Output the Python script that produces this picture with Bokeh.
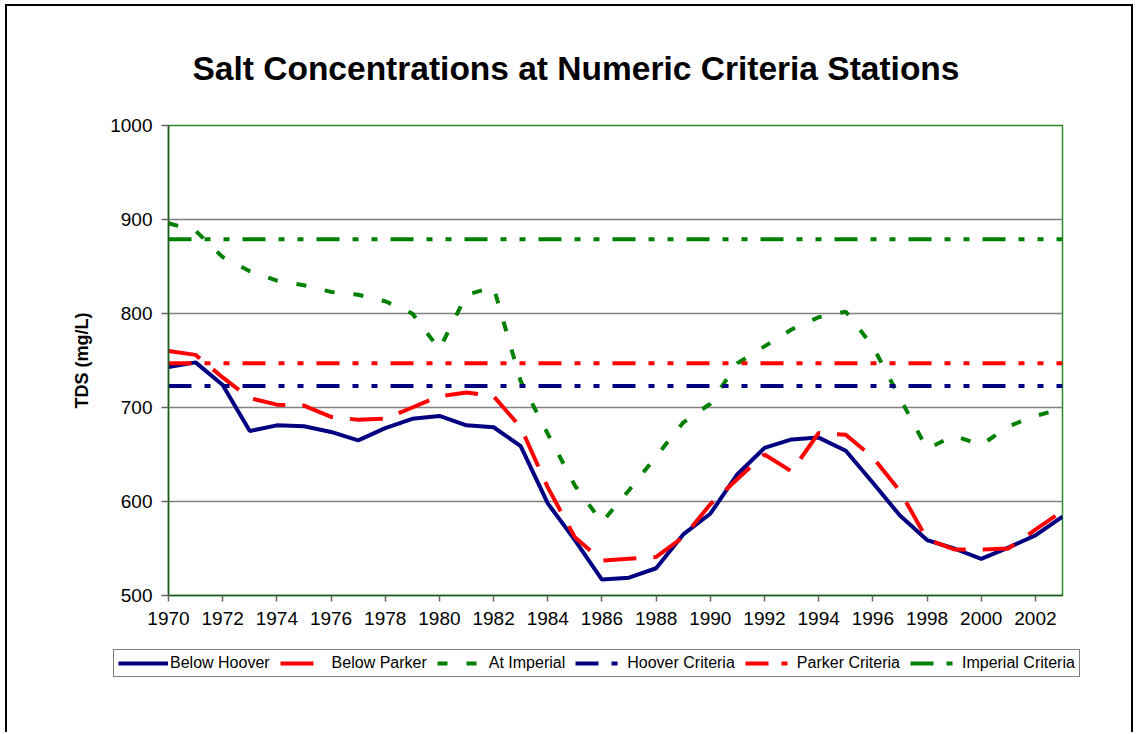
from bokeh.plotting import figure
from bokeh.layouts import column
from bokeh.models import Range1d, FixedTicker, Legend, LegendItem, Title
from bokeh.embed import file_html
from bokeh.resources import INLINE

years = list(range(1970, 2004))
below_hoover = [743, 748, 724, 675, 681, 680, 674, 665, 678, 688,
                691, 681, 679, 659, 598, 559, 517, 519, 529, 565,
                587, 629, 657, 666, 668, 654, 620, 585, 559, 550,
                539, 551, 564, 584]
below_parker = [760, 756, 732, 710, 703, 702, 690, 687, 688, 700,
                712, 716, 712, 679, 615, 562, 537, 539, 541, 562,
                597, 624, 650, 632, 673, 671, 647, 611, 560, 549,
                549, 550, 570, 590]
at_imperial = [896, 888, 860, 845, 835, 830, 823, 820, 813, 800,
               762, 820, 828, 728, 672, 617, 578, 612, 648, 684,
               704, 747, 765, 783, 796, 802, 765, 710, 656, 670,
               660, 680, 691, 699]
hoover_criteria = 723
parker_criteria = 747
imperial_criteria = 879
x_ticks = list(range(1970, 2003, 2))
y_ticks = [500, 600, 700, 800, 900, 1000]
grid_ticks = [600, 700, 800, 900]
series_names = ["Below Hoover", "Below Parker", "At Imperial",
                "Hoover Criteria", "Parker Criteria", "Imperial Criteria"]
series_colors = ["#000080", "#FF0000", "#008000", "#000080", "#FF0000", "#008000"]

FONT = "Liberation Sans"
W = 4
DASHES = ["solid", "33 17", "10 19", "23 13 6 13 6 13", "23 13 6 13 6 13", "23 13 6 13 6 13"]

p = figure(width=1124, height=640,
           x_range=Range1d(1970, 2003), y_range=Range1d(500, 1000),
           output_backend="svg", toolbar_location=None,
           min_border_left=161, min_border_right=69,
           min_border_top=119, min_border_bottom=51,
           background_fill_color="white", border_fill_color="white")
p.frame_align = False

p.outline_line_color = "#2A8A2A"
p.outline_line_width = 1.5

p.xgrid.visible = False
p.ygrid.ticker = FixedTicker(ticks=grid_ticks)
p.ygrid.grid_line_color = "#808080"
p.ygrid.grid_line_width = 1.5

p.xaxis.ticker = FixedTicker(ticks=x_ticks)
p.yaxis.ticker = FixedTicker(ticks=y_ticks)
for ax in (p.xaxis, p.yaxis):
    ax.axis_line_color = "#1F5A1F"
    ax.axis_line_width = 1.5
    ax.major_tick_line_color = "#666666"
    ax.major_tick_line_width = 1.5
    ax.major_tick_in = 0
    ax.minor_tick_line_color = None
    ax.major_label_text_font = FONT
    ax.major_label_text_color = "black"
    ax.major_label_text_font_size = "19px"
p.xaxis.major_tick_out = 6
p.yaxis.major_tick_out = 7
p.xaxis.major_label_standoff = 10
p.yaxis.major_label_standoff = 9
p.yaxis.axis_label = "TDS (mg/L)"
p.yaxis.axis_label_text_font = FONT
p.yaxis.axis_label_text_font_style = "bold"
p.yaxis.axis_label_text_font_size = "18px"
p.yaxis.axis_label_text_color = "black"
p.yaxis.axis_label_standoff = 15

series_y = [below_hoover, below_parker, at_imperial,
            [hoover_criteria] * 2, [parker_criteria] * 2, [imperial_criteria] * 2]
for i, ys in enumerate(series_y):
    xs = years if len(ys) == len(years) else [years[0], years[-1]]
    p.line(xs, ys, line_color=series_colors[i], line_width=W, line_dash=DASHES[i])

title = Title(text="Salt Concentrations at Numeric Criteria Stations",
              text_font=FONT, text_font_size="33.5px", text_font_style="bold",
              text_color="black", align="left", offset=24, standoff=77)
p.add_layout(title, "above")

# legend strip below the chart
lg = figure(width=1124, height=86, x_range=Range1d(0, 1), y_range=Range1d(0, 1),
            output_backend="svg", toolbar_location=None,
            x_axis_location=None, y_axis_location=None,
            min_border=0, background_fill_color="white", border_fill_color="white")
lg.frame_align = False
lg.outline_line_color = None
lg.grid.visible = False
items = []
for i, name in enumerate(series_names):
    # placeholder renderers outside the visible range: only their legend glyphs show
    r = lg.line(x=[5, 6], y=[5, 6], line_color=series_colors[i], line_width=W, line_dash=DASHES[i])
    items.append(LegendItem(label=name, renderers=[r]))
legend = Legend(items=items, orientation="horizontal", location=(106, 55),
                border_line_color="black", border_line_width=1,
                background_fill_color="white", background_fill_alpha=1,
                padding=4, spacing=10, label_standoff=2, margin=0,
                glyph_width=50, glyph_height=16, label_height=16,
                label_text_font=FONT, label_text_font_size="16px", label_text_color="black")
lg.add_layout(legend, "center")

layout = column(p, lg, spacing=0,
                styles={"border-left": "2px solid black",
                        "border-top": "2px solid black",
                        "border-right": "2px solid black",
                        "margin-left": "5px", "margin-top": "4px"})

open("out.html", "w").write(file_html(layout, INLINE))
